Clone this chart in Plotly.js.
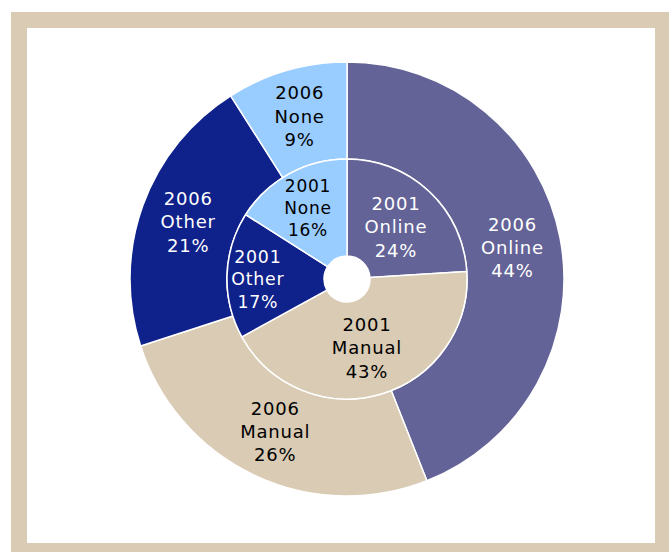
<!DOCTYPE html>
<html>
<head>
<meta charset="utf-8">
<script src="https://cdn.plot.ly/plotly-3.0.1.min.js"></script>
<style>
  html, body { margin: 0; padding: 0; background: #ffffff; }
  #chart { width: 669px; height: 552px; }
  #chart .slicetext text, #chart text.slicetext { letter-spacing: 0.8px; }
</style>
</head>
<body>
<div id="chart"></div>
<script>
// Categories and values
const categories = ["Online", "Manual", "Other", "None"];
const values2006 = [44, 26, 21, 9];
const values2001 = [24, 43, 17, 16];
const colors = ["#636397", "#d9cbb4", "#0f218a", "#99ccff"];
const textColors = ["#ffffff", "#000000", "#ffffff", "#000000"];

function labelsFor(year, vals) {
  return categories.map((c, i) => year + "<br>" + c + "<br>" + vals[i] + "%");
}

const W = 669, H = 552;
// pixel geometry helpers (style only)
function dom(cx, cy, r) {
  return {
    x: [(cx - r) / W, (cx + r) / W],
    y: [1 - (cy + r) / H, 1 - (cy - r) / H]
  };
}

const outer = {
  type: "pie",
  values: values2006,
  labels: categories,
  text: labelsFor("2006", values2006),
  textinfo: "text",
  textposition: "inside",
  insidetextorientation: "horizontal",
  sort: false,
  direction: "clockwise",
  rotation: 0,
  hole: 120 / 217,
  domain: dom(347, 279, 217),
  marker: { colors: colors, line: { color: "#ffffff", width: 1.5 } },
  insidetextfont: { family: "DejaVu Sans, Verdana, sans-serif", size: 18, color: textColors },
  hoverinfo: "none",
  showlegend: false
};

const inner = {
  type: "pie",
  values: values2001,
  labels: categories,
  text: labelsFor("2001", values2001),
  textinfo: "text",
  textposition: "inside",
  insidetextorientation: "horizontal",
  sort: false,
  direction: "clockwise",
  rotation: 0,
  hole: 23 / 120,
  domain: dom(347, 279, 120),
  marker: { colors: colors, line: { color: "#ffffff", width: 1.5 } },
  insidetextfont: { family: "DejaVu Sans, Verdana, sans-serif", size: 18, color: textColors },
  hoverinfo: "none",
  showlegend: false
};

const layout = {
  width: W,
  height: H,
  margin: { l: 0, r: 0, t: 0, b: 0, pad: 0 },
  paper_bgcolor: "#ffffff",
  showlegend: false,
  shapes: [
    { type: "rect", xref: "paper", yref: "paper", layer: "below",
      x0: 11 / W, x1: 1, y0: 0, y1: 1 - 12 / H,
      fillcolor: "#d9cbb4", line: { width: 0 } },
    { type: "rect", xref: "paper", yref: "paper", layer: "below",
      x0: 27 / W, x1: 655 / W, y0: 1 - 543 / H, y1: 1 - 28 / H,
      fillcolor: "#ffffff", line: { width: 0 } }
  ]
};

Plotly.newPlot("chart", [outer, inner], layout, { displayModeBar: false, staticPlot: true });
</script>
</body>
</html>
